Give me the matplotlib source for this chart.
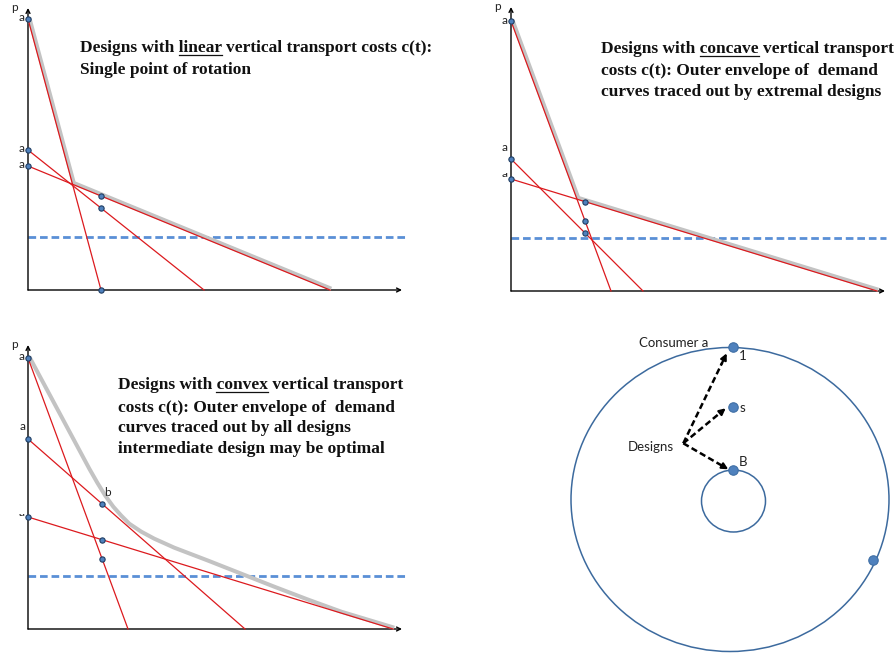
import matplotlib

matplotlib.use("Agg")
import matplotlib.pyplot as plt
from matplotlib.patches import Ellipse, Rectangle
from matplotlib.transforms import offset_copy

W, H = 896, 654

RED = "#dc1a1e"
GRAY = "#c3c3c3"
DASH_BLUE = "#5a8fd6"
DOT = "#4f81bd"
DOT_EDGE = "#1f3d63"
RING = "#3c6a9e"
SERIF = "Liberation Serif"
SANS = "Lato"

plt.rcParams["lines.scale_dashes"] = False

# ── demand lines: price intercept a, quantity intercept (panel pixel units) ──
P1_INTERCEPT = [271, 140, 124]
P1_QMAX = [73, 176, 302]
P2_INTERCEPT = [270, 132, 112]
P2_QMAX = [100, 132, 366]
P3_INTERCEPT = [271, 190, 112]
P3_QMAX = [100, 217, 365]
DESIGN_Q = [73, 74, 74]           # marked design on every demand line
PRICE_LEVEL = [53, 53, 53]        # blue dashed price
LEVEL_END = [380, 375, 379]

# convex case: outer envelope
ENV3_Q = [0, 15, 30, 45, 60, 68, 76, 84, 92, 100, 112, 125, 145, 179, 212, 245, 279, 312, 365]
ENV3_P = [271, 243, 215, 187, 159, 145, 132, 121, 112, 104, 96, 89, 80, 67, 54, 41, 28, 16, 0]

TEXT1 = [("Designs with ", "linear", " vertical transport costs c(t):"),
         ("Single point of rotation", "", "")]
TEXT2 = [("Designs with ", "concave", " vertical transport"),
         ("costs c(t): Outer envelope of  demand", "", ""),
         ("curves traced out by extremal designs", "", "")]
TEXT3 = [("Designs with ", "convex", " vertical transport"),
         ("costs c(t): Outer envelope of  demand", "", ""),
         ("curves traced out by all designs", "", ""),
         ("intermediate design may be optimal", "", "")]

# ── circle panel (pixels from big-circle centre) ──
RING_SIZE = [(0, 0, 318, 304), (3.5, -1.5, 64, 62)]
DOTS_X = [2.7, 3.3, 2.7, 143.3]
DOTS_Y = [152.2, 92.8, 29.5, -60.5]
ARROW_FROM = (-46.7, 56.2)
ARROW_TO = [(-3.3, 146.2), (-4.3, 91.2), (-1.7, 30.2)]

fig = plt.figure(figsize=(W / 100, H / 100), dpi=100)


def panel(ox, oy, left, right, down, up):
    ax = fig.add_axes([(ox - left) / W, (H - oy - down) / H,
                       (left + right) / W, (down + up) / H])
    ax.set_xlim(-left, right)
    ax.set_ylim(-down, up)
    ax.axis("off")
    return ax


def small(ax, x, y, s, hide_above=None):
    ax.text(x, y, s, fontsize=8.5, family=SANS, color="#222222",
            ha="center", va="center", zorder=3)
    if hide_above is not None:
        # the original label is half hidden by its neighbour
        ax.add_patch(Rectangle((x - 5, y + hide_above), 9, 10, fc="white",
                               ec="none", zorder=3.5))


def demand_panel(ax, a, qmax, dq, level, lend, env_q, env_p, ytop=283, xend=374):
    ax.annotate("", xy=(0, ytop), xytext=(0, 0),
                arrowprops=dict(arrowstyle="->", lw=1.0, color="black",
                                shrinkA=0, shrinkB=0, mutation_scale=7))
    ax.annotate("", xy=(xend, 0), xytext=(0, 0),
                arrowprops=dict(arrowstyle="->", lw=1.0, color="black",
                                shrinkA=0, shrinkB=0, mutation_scale=7))
    ax.plot([0, lend], [level, level], color=DASH_BLUE, lw=2.0,
            dashes=(5.5, 2.8), zorder=2)
    shifted = offset_copy(ax.transData, fig=fig, x=1.3, y=1.3, units="dots")
    ax.plot(env_q, env_p, color=GRAY, lw=2.9, solid_capstyle="butt",
            solid_joinstyle="round", transform=shifted, zorder=3)
    for ai, qi in zip(a, qmax):
        ax.plot([0, qi], [ai, 0], color=RED, lw=0.9, zorder=4)
        ax.plot([0, dq], [ai, ai - ai / qi * dq], "o", ms=3.8, mfc=DOT,
                mec=DOT_EDGE, mew=0.8, zorder=5)
    small(ax, -14, ytop + 1, "p")


def kink(a, qmax, i, j):
    si, sj = a[i] / qmax[i], a[j] / qmax[j]
    q = (a[i] - a[j]) / (si - sj)
    return q, a[i] - si * q


def write(ax, x, baselines, lines):
    fig.canvas.draw()
    r = fig.canvas.get_renderer()
    for y, (pre, word, post) in zip(baselines, lines):
        kw = dict(family=SERIF, fontweight="bold", fontsize=12.5,
                  color="#111111", va="baseline", ha="left")
        ax.text(x, y, pre + word + post, **kw)
        if word:
            t1 = ax.text(x, y, pre + word, alpha=0, **kw)
            t2 = ax.text(x, y, word, alpha=0, **kw)
            w1 = t1.get_window_extent(r).width
            w2 = t2.get_window_extent(r).width
            x0, y0 = ax.transData.transform((x, y))
            inv = ax.transData.inverted()
            p0 = inv.transform((x0 + w1 - w2, y0 - 3))
            p1 = inv.transform((x0 + w1, y0 - 3))
            ax.plot([p0[0], p1[0]], [p0[1], p1[1]], color="#111111", lw=0.9)


# ── panel 1: linear ──
ax1 = panel(28, 290, 28, 400, 10, 292)
kq, kp = kink(P1_INTERCEPT, P1_QMAX, 0, 2)
demand_panel(ax1, P1_INTERCEPT, P1_QMAX, DESIGN_Q[0], PRICE_LEVEL[0], LEVEL_END[0],
             [0, kq, P1_QMAX[2]], [P1_INTERCEPT[0], kp, 0], ytop=282)
for ai in P1_INTERCEPT:
    small(ax1, -6, ai + 2, "a")

# ── panel 2: concave ──
ax2 = panel(511, 291, 31, 385, 10, 293)
kq, kp = kink(P2_INTERCEPT, P2_QMAX, 0, 2)
demand_panel(ax2, P2_INTERCEPT, P2_QMAX, DESIGN_Q[1], PRICE_LEVEL[1], LEVEL_END[1],
             [0, kq, P2_QMAX[2]], [P2_INTERCEPT[0], kp, 0], ytop=284)
small(ax2, -6, P2_INTERCEPT[0] + 1, "a")
small(ax2, -6, P2_INTERCEPT[1] + 12, "a")
small(ax2, -6, P2_INTERCEPT[2] + 6, "a", hide_above=0)

# ── panel 3: convex ──
ax3 = panel(28, 629, 28, 400, 20, 300)
demand_panel(ax3, P3_INTERCEPT, P3_QMAX, DESIGN_Q[2], PRICE_LEVEL[2], LEVEL_END[2],
             ENV3_Q, ENV3_P, ytop=284)
small(ax3, -6, P3_INTERCEPT[0] + 1, "a")
small(ax3, -5, P3_INTERCEPT[1] + 12, "a")
small(ax3, -6, P3_INTERCEPT[2] + 5, "a", hide_above=-2)
small(ax3, 79, 136, "b")

# ── panel 4: circles ──
ax4 = panel(730, 499.5, 170, 166, 154.5, 170)
for cx, cy, w, h in RING_SIZE:
    ax4.add_patch(Ellipse((cx, cy), w, h, fill=False, ec=RING, lw=1.1))
ax4.plot(DOTS_X, DOTS_Y, "o", ms=6.8, mfc=DOT, mec="#3f6fa5", mew=0.8, zorder=5)
fx, fy = ARROW_FROM
for tx, ty in ARROW_TO:
    # dashed shaft, then a short solid piece carrying the head
    ux, uy = tx - fx, ty - fy
    ax4.plot([fx, fx + 0.9 * ux], [fy, fy + 0.9 * uy], color="black", lw=1.8,
             dashes=(4.5, 2.4))
    ax4.annotate("", xy=(tx, ty), xytext=(fx + 0.88 * ux, fy + 0.88 * uy),
                 arrowprops=dict(arrowstyle="-|>", lw=1.6, color="black",
                                 shrinkA=0, shrinkB=0, mutation_scale=9))
lab = dict(fontsize=9.5, family=SANS, color="#222222", ha="center", va="center")
ax4.text(-56.7, 156.2, "Consumer a", **lab)
ax4.text(12.7, 143.5, "1", **lab)
ax4.text(12.7, 91.5, "s", **lab)
ax4.text(12.7, 37.8, "B", **lab)
ax4.text(-79, 52.8, "Designs", **lab)

# ── captions ──
write(ax1, 52, [290 - 51.7, 290 - 74], TEXT1)
write(ax2, 90, [291 - 53.3, 291 - 75, 291 - 95.7], TEXT2)
write(ax3, 89.5, [629 - 389, 629 - 411.7, 629 - 432.3, 629 - 453.3], TEXT3)

fig.savefig("out.png", dpi=100, facecolor="white")
